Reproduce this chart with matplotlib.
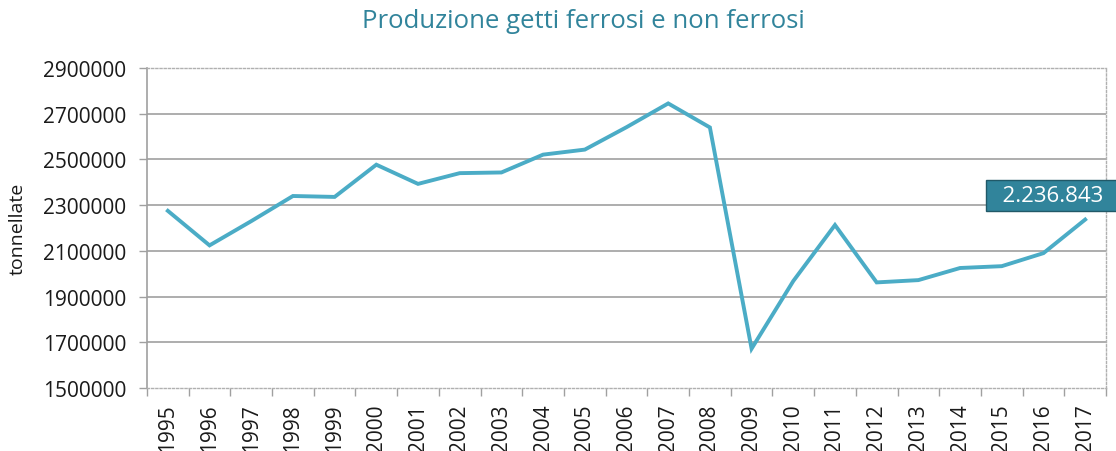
import matplotlib
matplotlib.use("Agg")
import matplotlib.pyplot as plt
from matplotlib.ticker import FixedLocator

years = [str(y) for y in range(1995, 2018)]
values = [2275000, 2124000, 2230000, 2340000, 2336000, 2477000, 2393000, 2440000,
          2443000, 2521000, 2543000, 2641000, 2745000, 2640000, 1672000, 1968000,
          2213000, 1962000, 1972000, 2025000, 2033000, 2090000, 2236843]
yticks = [1500000, 1700000, 1900000, 2100000, 2300000, 2500000, 2700000, 2900000]
title = "Produzione getti ferrosi e non ferrosi"
ylabel = "tonnellate"
last_label = "2.236.843"

plt.rcParams['font.family'] = ['Open Sans', 'DejaVu Sans']

fig = plt.figure(figsize=(11.16, 4.52), dpi=100)
ax = fig.add_axes([147/1116, 1-389/452, (1106-147)/1116, (389-69)/452])

x = list(range(len(years)))
ax.plot(x, values, color='#4BACC6', lw=2.8, solid_joinstyle='miter', zorder=3)

ax.set_xlim(-0.5, len(years) - 0.5)
ax.set_ylim(yticks[0], yticks[-1])
ax.set_yticks(yticks)
ax.set_yticklabels([str(v) for v in yticks], fontsize=15, color='#1a1a1a')
ax.set_xticks(x)
ax.set_xticklabels(years, rotation=90, fontsize=15, color='#1a1a1a')
ax.xaxis.set_minor_locator(FixedLocator([i - 0.5 for i in range(len(years) + 1)]))
ax.tick_params(axis='x', which='major', length=0, pad=11)
ax.tick_params(axis='x', which='minor', length=6, color='#A0A0A0', width=1)
ax.tick_params(axis='y', length=6, color='#A0A0A0', width=1, pad=9)

for v in yticks[1:-1]:
    ax.axhline(v, color='#A0A0A0', lw=1.2, zorder=1)

for s in ['top', 'right', 'bottom']:
    ax.spines[s].set_color('#B0B0B0')
    ax.spines[s].set_linestyle((0, (1.5, 1.5)))
    ax.spines[s].set_linewidth(1)
ax.spines['left'].set_color('#A0A0A0')
ax.spines['left'].set_linewidth(1.2)

ax.set_ylabel(ylabel, fontsize=14, color='#1a1a1a')
ax.yaxis.set_label_coords(-0.125, 0.5)

fig.text(583/1116, 1-22/452, title, ha='center', va='center', fontsize=18.5, color='#31849B')

ax.annotate("  " + last_label + "  ", xy=(x[-1], values[-1]), xytext=(-32, 24), textcoords='offset pixels',
            ha='center', va='center', fontsize=16, color='white',
            bbox=dict(boxstyle='square,pad=0.22', fc='#31849B', ec='#215968', lw=1), zorder=5,
            annotation_clip=False)

fig.savefig("out.png", dpi=100)
